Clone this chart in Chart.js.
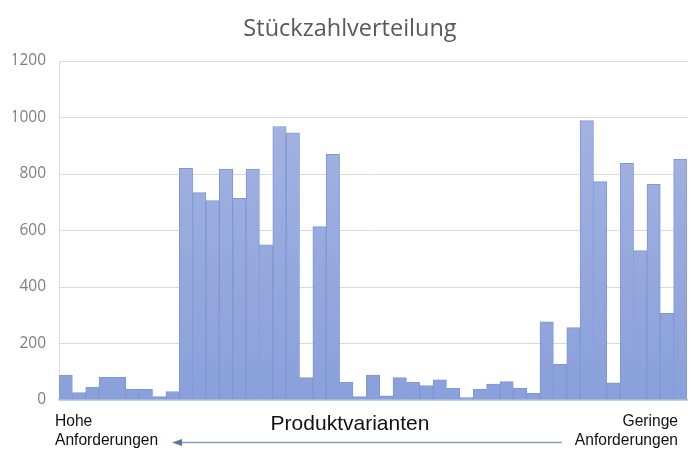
<!DOCTYPE html>
<html>
<head>
<meta charset="utf-8">
<script src="https://cdn.jsdelivr.net/npm/chart.js@4.4.1/dist/chart.umd.min.js"></script>
<style>
  html, body { margin: 0; padding: 0; background: #fff; }
  #wrap { position: relative; width: 700px; height: 459px; overflow: hidden; }
  #c { position: absolute; left: 0; top: 0; }
  .side { position: absolute; font-family: "Liberation Sans", Arial, sans-serif; font-size: 15.6px; line-height: 19px; color: #111; white-space: nowrap; }
  #left { left: 55px; top: 411px; text-align: left; }
  #right { right: 22px; top: 411px; text-align: right; }
  #xtitle { position: absolute; left: 0; width: 700px; top: 410px; text-align: center;
            font-family: "Liberation Sans", Arial, sans-serif; font-size: 21px; line-height: 26px; color: #111; }
</style>
</head>
<body>
<div id="wrap">
  <canvas id="c" width="700" height="459"></canvas>
  <div id="xtitle"></div>
  <div class="side" id="left">Hohe<br>Anforderungen</div>
  <div class="side" id="right">Geringe<br>Anforderungen</div>
</div>
<script>
// ---- data ----
const chartTitle = "Stückzahlverteilung";
const xAxisTitle = "Produktvarianten";
const categories = ["V1","V2","V3","V4","V5","V6","V7","V8","V9","V10",
  "V11","V12","V13","V14","V15","V16","V17","V18","V19","V20",
  "V21","V22","V23","V24","V25","V26","V27","V28","V29","V30",
  "V31","V32","V33","V34","V35","V36","V37","V38","V39","V40",
  "V41","V42","V43","V44","V45","V46","V47"];
const quantities = [88, 26, 45, 80, 80, 38, 38, 12, 30,
  820, 734, 706, 817, 714, 817, 549, 968, 946, 79, 614, 870,
  63, 12, 88, 15, 79, 63, 51, 71, 41, 9, 38, 56, 65, 41, 24,
  277, 126, 256, 989, 773, 61, 838, 529, 763, 307, 853];
const yTicks = [0, 200, 400, 600, 800, 1000, 1200];

document.getElementById('xtitle').textContent = xAxisTitle;

// ---- chart ----
const arrowPlugin = {
  id: 'arrow',
  afterDraw(chart) {
    const ctx = chart.ctx;
    ctx.save();
    const y = 442.5;
    ctx.strokeStyle = '#8c9fb8';
    ctx.lineWidth = 1.3;
    ctx.beginPath();
    ctx.moveTo(562, y);
    ctx.lineTo(180, y);
    ctx.stroke();
    ctx.fillStyle = '#5f7897';
    ctx.beginPath();
    ctx.moveTo(172, y);
    ctx.lineTo(182, y - 3.5);
    ctx.lineTo(182, y + 3.5);
    ctx.closePath();
    ctx.fill();
    ctx.restore();
  }
};

function barGradient(context) {
  const chart = context.chart;
  const area = chart.chartArea;
  if (!area) return '#94a8dc';
  const g = chart.ctx.createLinearGradient(0, area.top, 0, area.bottom);
  g.addColorStop(0, '#a7b6e2');
  g.addColorStop(1, '#8aa0da');
  return g;
}

new Chart(document.getElementById('c'), {
  type: 'bar',
  data: {
    labels: categories,
    datasets: [{
      data: quantities,
      backgroundColor: barGradient,
      borderColor: '#7d97d7',
      borderWidth: 1,
      categoryPercentage: 1.0,
      barPercentage: 1.0
    }]
  },
  options: {
    responsive: false,
    animation: false,
    devicePixelRatio: 1,
    layout: { padding: { left: 13, right: 13, top: 0, bottom: 59 } },
    plugins: {
      legend: { display: false },
      tooltip: { enabled: false },
      title: {
        display: true,
        text: chartTitle,
        color: '#595959',
        font: { family: '"Open Sans", sans-serif', size: 23.5, weight: 'normal' },
        padding: { top: 15, bottom: 17.8 }
      }
    },
    scales: {
      x: {
        grid: { display: false, drawTicks: false },
        border: { display: true, color: '#b4c6e7', width: 1.5 },
        ticks: { display: false },
        title: { display: false }
      },
      y: {
        min: 0,
        max: 1200,
        afterBuildTicks(scale) { scale.ticks = yTicks.map(v => ({ value: v })); },
        afterFit(scale) { scale.width = 46; },
        grid: { color: '#d9d9d9', lineWidth: 1, drawTicks: false },
        border: { display: true, color: '#d9d9d9' },
        ticks: {
          color: '#7f7f7f',
          padding: 13,
          font: { family: '"Open Sans", sans-serif', size: 15.5 },
          callback: (v) => String(v)
        }
      }
    }
  },
  plugins: [arrowPlugin]
});
</script>
</body>
</html>
